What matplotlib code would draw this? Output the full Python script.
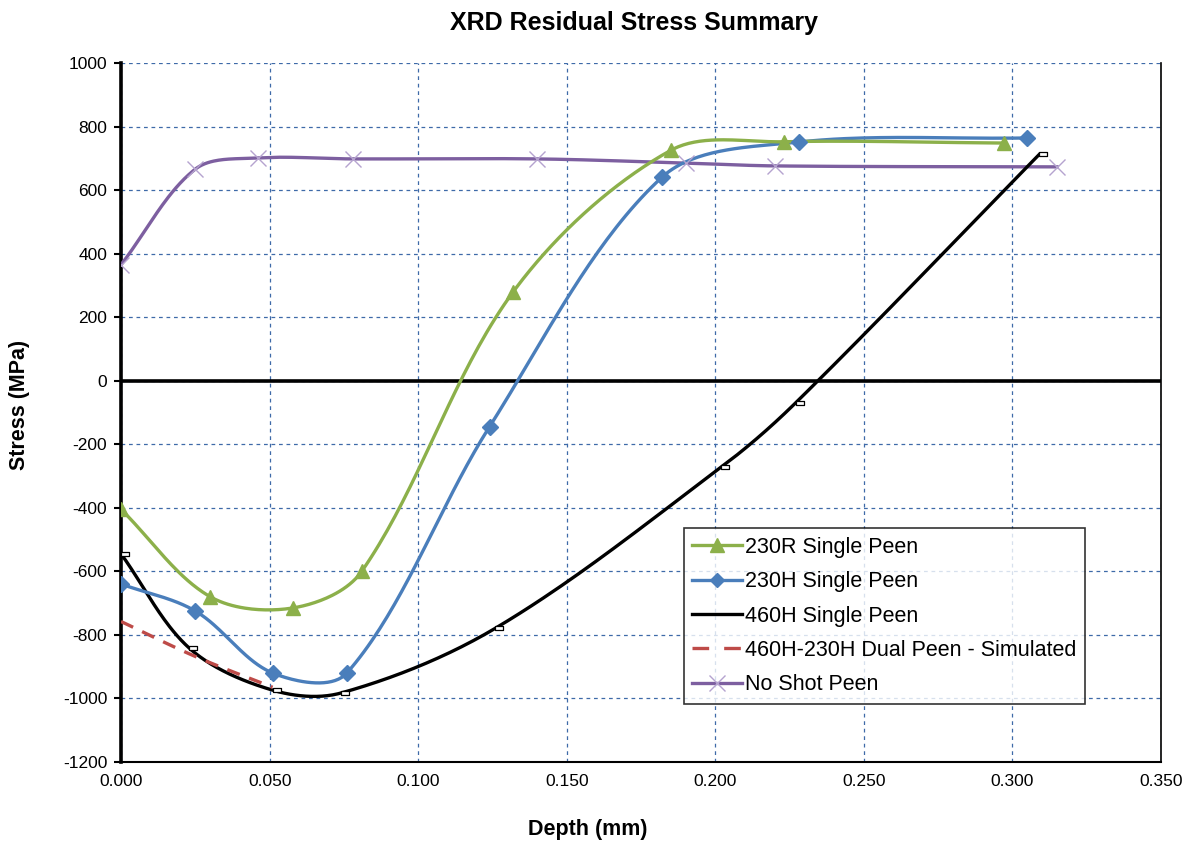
import numpy as np
import matplotlib
matplotlib.use("Agg")
import matplotlib.pyplot as plt
from matplotlib.path import Path
from matplotlib.ticker import FormatStrFormatter

OUTPUT_FILE = "out.png"

plt.rcParams["font.family"] = ["Liberation Sans", "DejaVu Sans"]
plt.rcParams["axes.unicode_minus"] = False

# data
r230_x = [0.000, 0.030, 0.058, 0.081, 0.132, 0.185, 0.223, 0.297]
r230_y = [-405, -680, -715, -600, 280, 725, 752, 748]

h230_x = [0.000, 0.025, 0.051, 0.076, 0.124, 0.182, 0.228, 0.305]
h230_y = [-640, -725, -920, -920, -145, 640, 751, 764]

h460_x = [0.000, 0.023, 0.051, 0.074, 0.126, 0.202, 0.227, 0.309]
h460_y = [-545, -842, -974, -983, -779, -272, -70, 712]

dual_x = [0.000, 0.025, 0.051]
dual_y = [-758, -868, -965]

none_x = [0.000, 0.025, 0.046, 0.078, 0.140, 0.190, 0.220, 0.315]
none_y = [365, 666, 701, 698, 698, 685, 676, 673]

x_ticks = [0.0, 0.05, 0.10, 0.15, 0.20, 0.25, 0.30, 0.35]
y_ticks = list(range(-1200, 1001, 200))

XSPAN, YSPAN = 0.35 / 1040.0, 2200.0 / 699.0   # data units per pixel


def smooth(xs, ys, n=40):
    # Excel-like smoothed line: bezier with chord-weighted tangents (pixel space)
    p = np.column_stack([np.asarray(xs) / XSPAN, np.asarray(ys) / YSPAN]).astype(float)
    p = np.vstack([p[0], p, p[-1]])
    out = []
    for i in range(1, len(p) - 2):
        p0, p1, p2, p3 = p[i - 1], p[i], p[i + 1], p[i + 2]
        l0 = np.linalg.norm(p1 - p0)
        l1 = np.linalg.norm(p2 - p1)
        l2 = np.linalg.norm(p3 - p2)
        c1 = p1 + (p2 - p0) * (l1 / (l0 + l1 + 1e-9)) / 3.0
        c2 = p2 - (p3 - p1) * (l1 / (l1 + l2 + 1e-9)) / 3.0
        t = np.linspace(0, 1, n)[:, None]
        seg = ((1 - t) ** 3) * p1 + 3 * ((1 - t) ** 2) * t * c1 + 3 * (1 - t) * t ** 2 * c2 + t ** 3 * p2
        out.append(seg if i == 1 else seg[1:])
    s = np.vstack(out)
    return s[:, 0] * XSPAN, s[:, 1] * YSPAN


# small dash marker sitting to the right of the point (like the Excel one)
dash_marker = Path([(0, -0.25), (1, -0.25), (1, 0.25), (0, 0.25), (0, -0.25)],
                   [Path.MOVETO, Path.LINETO, Path.LINETO, Path.LINETO, Path.CLOSEPOLY])

fig = plt.figure(figsize=(11.88, 8.44), dpi=100)
ax = fig.add_axes([0.1019, 0.0972, 0.8754, 0.8282])

green = "#8CB04A"
blue = "#4A7EBB"
red = "#BE4B48"
purple = "#7D5FA0"
xcol = "#B5A3CF"

# No shot peen
sx, sy = smooth(none_x, none_y)
ax.plot(sx, sy, color=purple, lw=2.4, zorder=3)
ax.plot(none_x, none_y, ls="none", marker="x", ms=11, mew=1.0, color=xcol, zorder=4)

# 460H
sx, sy = smooth(h460_x, h460_y)
ax.plot(sx, sy, color="black", lw=2.4, zorder=3)
ax.plot(h460_x, h460_y, ls="none", marker=dash_marker, ms=11, mfc="white", mec="black", mew=0.9, zorder=4)

# dual peen simulated
sx, sy = smooth(dual_x, dual_y)
ax.plot(sx, sy, color=red, lw=2.4, ls=(0, (4, 3)), zorder=3)

# 230H
sx, sy = smooth(h230_x, h230_y)
ax.plot(sx, sy, color=blue, lw=2.4, zorder=3)
ax.plot(h230_x, h230_y, ls="none", marker="D", ms=8, color=blue, zorder=4)

# 230R
sx, sy = smooth(r230_x, r230_y)
ax.plot(sx, sy, color=green, lw=2.4, zorder=3)
ax.plot(r230_x, r230_y, ls="none", marker="^", ms=10, color=green, zorder=4)

# legend handles
ax.plot([], [], color=green, lw=2.4, marker="^", ms=10, label="230R Single Peen")
ax.plot([], [], color=blue, lw=2.4, marker="D", ms=7, label="230H Single Peen")
ax.plot([], [], color="black", lw=2.4, label="460H Single Peen")
ax.plot([], [], color=red, lw=2.4, ls=(0, (5, 4.5)), label="460H-230H Dual Peen - Simulated")
ax.plot([], [], color=purple, lw=2.4, marker="x", ms=11, mec=xcol, mew=1.0, label="No Shot Peen")

h, l = ax.get_legend_handles_labels()
leg = ax.legend(h[-5:], l[-5:], loc="lower left", bbox_to_anchor=(0.541, 0.083),
                fontsize=15.5, frameon=True, fancybox=False, edgecolor="black",
                handlelength=2.3, handletextpad=0.15, labelspacing=0.62,
                borderpad=0.4, borderaxespad=0)
leg.get_frame().set_linewidth(1.2)
leg.set_zorder(6)

ax.set_xlim(0, 0.35)
ax.set_ylim(-1200, 1000)
ax.set_xticks(x_ticks)
ax.set_yticks(y_ticks)
ax.xaxis.set_major_formatter(FormatStrFormatter("%.3f"))

ax.grid(True, color="#3E6AA8", ls=(0, (3, 3)), lw=0.9)
ax.set_axisbelow(True)
ax.axhline(0, color="black", lw=2.6, zorder=2)

ax.spines["top"].set_visible(False)
ax.spines["left"].set_linewidth(2.6)
ax.spines["bottom"].set_linewidth(1.5)
ax.spines["right"].set_linewidth(1.2)

ax.tick_params(axis="y", direction="out", length=5, width=1.5, labelsize=12.5, pad=5)
ax.tick_params(axis="x", direction="out", length=0, labelsize=12.5, pad=9)

fig.text(588 / 1188, 1 - 829 / 844, "Depth (mm)", fontsize=15.5, fontweight="bold",
         ha="center", va="center")
fig.text(20 / 1188, 1 - 405 / 844, "Stress (MPa)", fontsize=15.5, fontweight="bold",
         ha="center", va="center", rotation=90)
fig.text(634 / 1188, 1 - 23 / 844, "XRD Residual Stress Summary", fontsize=18,
         fontweight="bold", ha="center", va="center")

plt.savefig(OUTPUT_FILE, dpi=100)
print("saved", OUTPUT_FILE)
